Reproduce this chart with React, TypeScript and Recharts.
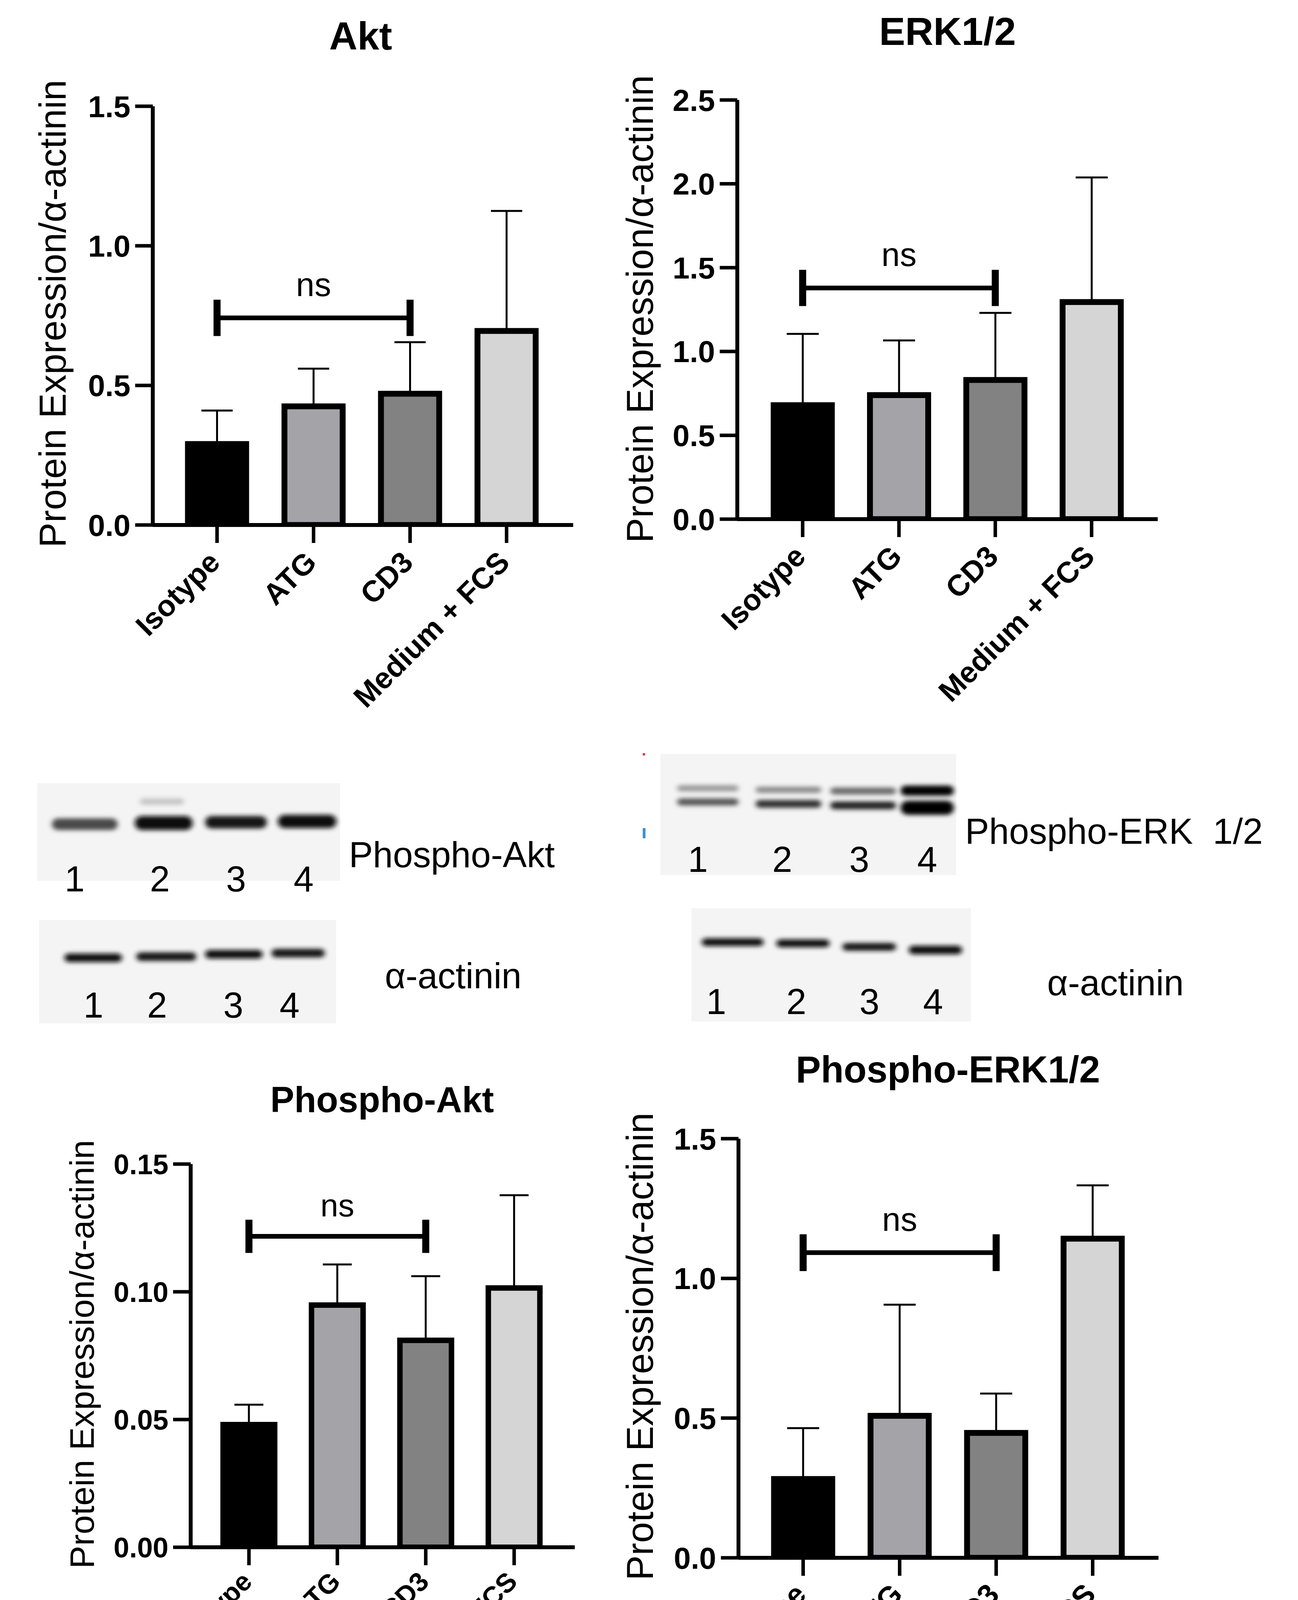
import React from 'react';
import { BarChart, Bar, XAxis, YAxis, Cell, ErrorBar, ReferenceLine } from 'recharts';

const FONT = '"Liberation Sans", Arial, Helvetica, sans-serif';

// groups shared by all four panels
const groups = ['Isotype', 'ATG', 'CD3', 'Medium + FCS'];
const groupFills = ['#000000', '#a4a3a8', '#828282', '#d5d5d5'];

// Akt
const aktMean = [0.29, 0.425, 0.47, 0.695];
const aktSd = [0.12, 0.135, 0.185, 0.43];
const aktTicks = [0, 0.5, 1.0, 1.5];

// ERK1/2
const erkMean = [0.68, 0.74, 0.83, 1.295];
const erkSd = [0.425, 0.326, 0.4, 0.743];
const erkTicks = [0, 0.5, 1.0, 1.5, 2.0, 2.5];

// Phospho-Akt
const pAktMean = [0.048, 0.0948, 0.081, 0.1015];
const pAktSd = [0.0078, 0.0159, 0.0251, 0.0363];
const pAktTicks = [0, 0.05, 0.1, 0.15];

// Phospho-ERK1/2
const pErkMean = [0.282, 0.508, 0.447, 1.142];
const pErkSd = [0.182, 0.398, 0.141, 0.191];
const pErkTicks = [0, 0.5, 1.0, 1.5];

// level of the "ns" bracket (Isotype vs CD3) and half height of its end bars
const nsLevel = [0.742, 1.379, 0.1217, 1.092];
const nsHalf = [0.065, 0.108, 0.0065, 0.066];

const yTitle = 'Protein Expression/α-actinin';

const panels = [
  { title: 'Akt', means: aktMean, sds: aktSd, ticks: aktTicks, digits: 1, ns: nsLevel[0], half: nsHalf[0],
    left: 391, top: 272, w: 1076, h: 1072, padL: 41, padR: 47, barSize: 149, border: 15, cap: 40,
    tickFont: 78, catFont: 76, sx: 12, sy: 52, nsFont: 85, nsOff: 56,
    titleX: 923, titleY: 127, titleSize: 100, labX: 168, labY: 803, labSize: 96 },
  { title: 'ERK1/2', means: erkMean, sds: erkSd, ticks: erkTicks, digits: 1, ns: nsLevel[1], half: nsHalf[1],
    left: 1887, top: 256, w: 1076, h: 1073, padL: 44, padR: 46, barSize: 149, border: 15, cap: 41,
    tickFont: 78, catFont: 76, sx: 12, sy: 52, nsFont: 85, nsOff: 56,
    titleX: 2425, titleY: 115, titleSize: 100, labX: 1671, labY: 791, labSize: 96 },
  { title: 'Phospho-Akt', means: pAktMean, sds: pAktSd, ticks: pAktTicks, digits: 2, ns: nsLevel[2], half: nsHalf[2],
    left: 488, top: 2980, w: 983, h: 981, padL: 36, padR: 42, barSize: 132, border: 14, cap: 37,
    tickFont: 72, catFont: 69, sx: 12, sy: 44, nsFont: 82, nsOff: 51,
    titleX: 978, titleY: 2847, titleSize: 92, labX: 240, labY: 3467, labSize: 88 },
  { title: 'Phospho-ERK1/2', means: pErkMean, sds: pErkSd, ticks: pErkTicks, digits: 1, ns: nsLevel[3], half: nsHalf[3],
    left: 1890, top: 2915, w: 1075, h: 1073, padL: 42, padR: 45, barSize: 149, border: 15, cap: 41,
    tickFont: 78, catFont: 76, sx: 12, sy: 50, nsFont: 85, nsOff: 56,
    titleX: 2426, titleY: 2771, titleSize: 96, labX: 1671, labY: 3447, labSize: 96 },
];

// western blot strips (pictures in the original, sketched here)
const blots = [
  { x: 95, y: 2005, w: 775, h: 250, bands: [
    { x: 127, w: 180, cy: 2110, h: 30, c: '#4a4a4a' },
    { x: 339, w: 160, cy: 2107, h: 36, c: '#111' },
    { x: 519, w: 170, cy: 2105, h: 32, c: '#151515' },
    { x: 705, w: 162, cy: 2103, h: 34, c: '#0c0c0c' },
    { x: 352, w: 125, cy: 2052, h: 16, c: '#c4c4c4' },
  ] },
  { x: 100, y: 2355, w: 760, h: 265, bands: [
    { x: 159, w: 159, cy: 2452, h: 22, c: '#111' },
    { x: 343, w: 165, cy: 2449, h: 22, c: '#151515' },
    { x: 519, w: 159, cy: 2443, h: 22, c: '#111' },
    { x: 689, w: 148, cy: 2440, h: 22, c: '#151515' },
  ] },
  { x: 1690, y: 1930, w: 757, h: 310, bands: [
    { x: 1727, w: 169, cy: 2018, h: 16, c: '#9a9a9a' },
    { x: 1727, w: 169, cy: 2053, h: 18, c: '#555' },
    { x: 1928, w: 180, cy: 2022, h: 16, c: '#8a8a8a' },
    { x: 1928, w: 180, cy: 2058, h: 20, c: '#333' },
    { x: 2119, w: 180, cy: 2025, h: 18, c: '#6a6a6a' },
    { x: 2119, w: 180, cy: 2062, h: 20, c: '#222' },
    { x: 2299, w: 148, cy: 2024, h: 26, c: '#000' },
    { x: 2299, w: 148, cy: 2068, h: 36, c: '#000' },
  ] },
  { x: 1770, y: 2325, w: 715, h: 290, bands: [
    { x: 1790, w: 170, cy: 2412, h: 20, c: '#111' },
    { x: 1981, w: 148, cy: 2415, h: 20, c: '#111' },
    { x: 2150, w: 149, cy: 2424, h: 20, c: '#151515' },
    { x: 2320, w: 148, cy: 2432, h: 22, c: '#111' },
  ] },
];

const laneNums = ['1', '2', '3', '4'];
const laneRows = [
  { xs: [191, 409, 604, 777], y: 2282 },
  { xs: [239, 402, 597, 741], y: 2605 },
  { xs: [1786, 2002, 2199, 2373], y: 2232 },
  { xs: [1833, 2038, 2225, 2388], y: 2596 },
];
const blotNames = [
  { text: 'Phospho-Akt', x: 893, y: 2220 },
  { text: 'α-actinin', x: 985, y: 2530 },
  { text: 'Phospho-ERK  1/2', x: 2470, y: 2160 },
  { text: 'α-actinin', x: 2680, y: 2548 },
];

function SlantTick(props: any) {
  const { x, y, payload, fs, sx, sy } = props;
  const tx = x + sx;
  const ty = y + sy;
  return (
    <text x={tx} y={ty} transform={`rotate(-45 ${tx} ${ty})`} textAnchor="end"
      fontSize={fs} fontWeight={700} fill="#000">
      {payload.value}
    </text>
  );
}

const AXIS_W = 330;
const PAD_T = 100;
const PAD_R = 40;
const X_H = 560;

function Panel({ p }: { p: any }) {
  const rows = groups.map((g, i) => ({ name: g, mean: p.means[i], err: [0, p.sds[i]] }));
  const top = p.ticks[p.ticks.length - 1];
  const axisStyle = { stroke: '#000', strokeWidth: 10 };
  const tickStyle = { stroke: '#000', strokeWidth: 9 };
  return (
    <div style={{ position: 'absolute', left: p.left - AXIS_W, top: p.top - PAD_T }}>
      <BarChart width={AXIS_W + p.w + PAD_R} height={PAD_T + p.h + X_H} data={rows}
        margin={{ top: PAD_T, right: PAD_R, bottom: 0, left: 0 }}>
        <XAxis dataKey="name" height={X_H} interval={0} padding={{ left: p.padL, right: p.padR }}
          axisLine={axisStyle} tickLine={tickStyle} tickSize={46}
          tick={(tp: any) => <SlantTick {...tp} fs={p.catFont} sx={p.sx} sy={p.sy} />} />
        <YAxis width={AXIS_W} domain={[0, top]} ticks={p.ticks} interval={0} allowDataOverflow
          tickFormatter={(v: number) => v.toFixed(p.digits)}
          axisLine={axisStyle} tickLine={tickStyle} tickSize={45} tickMargin={12}
          tick={{ fontSize: p.tickFont, fontWeight: 700, fill: '#000' }} />
        <Bar dataKey="mean" barSize={p.barSize} stroke="#000" strokeWidth={p.border} isAnimationActive={false}>
          {rows.map((r, i) => <Cell key={r.name} fill={groupFills[i]} />)}
          <ErrorBar dataKey="err" direction="y" width={p.cap} stroke="#000" strokeWidth={5} isAnimationActive={false} />
        </Bar>
        <ReferenceLine segment={[{ x: groups[0], y: p.ns }, { x: groups[2], y: p.ns }]}
          stroke="#000" strokeWidth={12}
          label={{ value: 'ns', position: 'top', offset: p.nsOff, fontSize: p.nsFont, fill: '#000' }} />
        <ReferenceLine segment={[{ x: groups[0], y: p.ns - p.half }, { x: groups[0], y: p.ns + p.half }]}
          stroke="#000" strokeWidth={18} />
        <ReferenceLine segment={[{ x: groups[2], y: p.ns - p.half }, { x: groups[2], y: p.ns + p.half }]}
          stroke="#000" strokeWidth={18} />
      </BarChart>
    </div>
  );
}

export default function App() {
  return (
    <div style={{ position: 'absolute', left: 0, top: 0, width: 3322, height: 4550, background: '#fff',
      fontFamily: FONT }}>
      {panels.map((p) => <Panel key={p.title} p={p} />)}
      <svg width={3322} height={4550} style={{ position: 'absolute', left: 0, top: 0, pointerEvents: 'none' }}>
        <defs>
          <filter id="bandBlur" x="-20%" y="-200%" width="140%" height="500%">
            <feGaussianBlur stdDeviation="7 6" />
          </filter>
        </defs>
        {panels.map((p) => (
          <g key={p.title}>
            <text x={p.titleX} y={p.titleY} textAnchor="middle" fontSize={p.titleSize} fontWeight={700} fill="#000">
              {p.title}
            </text>
            <text x={p.labX} y={p.labY} textAnchor="middle" fontSize={p.labSize} fill="#000"
              transform={`rotate(-90 ${p.labX} ${p.labY})`}>
              {yTitle}
            </text>
          </g>
        ))}
        {blots.map((b, i) => (
          <g key={i}>
            <rect x={b.x} y={b.y} width={b.w} height={b.h} fill="#f4f4f4" />
            <g filter="url(#bandBlur)">
              {b.bands.map((d, j) => (
                <rect key={j} x={d.x + 6} y={d.cy - d.h / 2} width={d.w - 12} height={d.h} rx={d.h / 2} fill={d.c} />
              ))}
            </g>
          </g>
        ))}
        {laneRows.map((row, i) => (
          <g key={i}>
            {row.xs.map((x, j) => (
              <text key={j} x={x} y={row.y} textAnchor="middle" fontSize={92} fill="#000">{laneNums[j]}</text>
            ))}
          </g>
        ))}
        {blotNames.map((n, i) => (
          <text key={i} x={n.x} y={n.y} fontSize={92} fill="#000" style={{ whiteSpace: 'pre' }}>{n.text}</text>
        ))}
        <rect x={1645} y={1928} width={6} height={6} fill="#e53935" />
        <rect x={1645} y={2120} width={7} height={26} fill="#3d8fd8" />
      </svg>
    </div>
  );
}
